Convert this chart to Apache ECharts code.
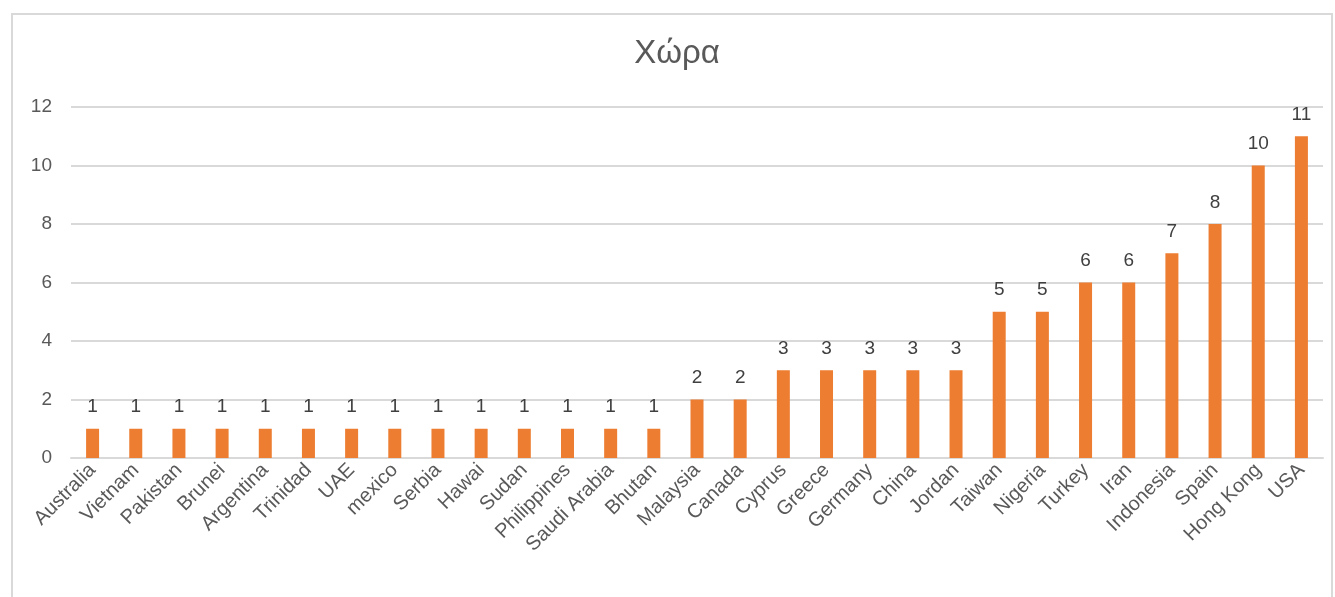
<!DOCTYPE html>
<html>
<head>
<meta charset="utf-8">
<style>
  html, body { margin: 0; padding: 0; background: #fff; }
  #frame { position: absolute; left: 11px; top: 13px; width: 1322px; height: 590px; border: 2px solid #d9d9d9; box-sizing: border-box; }
  #chart { position: absolute; left: 0; top: 0; width: 1335px; height: 597px; }
</style>
<script src="https://cdn.jsdelivr.net/npm/echarts@6/dist/echarts.min.js"></script>
</head>
<body>
<div id="frame"></div>
<div id="chart"></div>
<script>
// Countries and their counts
const countries = ['Australia', 'Vietnam', 'Pakistan', 'Brunei', 'Argentina', 'Trinidad', 'UAE', 'mexico', 'Serbia', 'Hawai', 'Sudan', 'Philippines', 'Saudi Arabia', 'Bhutan', 'Malaysia', 'Canada', 'Cyprus', 'Greece', 'Germany', 'China', 'Jordan', 'Taiwan', 'Nigeria', 'Turkey', 'Iran', 'Indonesia', 'Spain', 'Hong Kong', 'USA'];
const counts = [1, 1, 1, 1, 1, 1, 1, 1, 1, 1, 1, 1, 1, 1, 2, 2, 3, 3, 3, 3, 3, 5, 5, 6, 6, 7, 8, 10, 11];
const titleText = 'Χώρα';

const chart = echarts.init(document.getElementById('chart'));
const font = 'Liberation Sans, Arial, sans-serif';
chart.setOption({
  animation: false,
  title: {
    text: titleText,
    left: 672, top: 32, textAlign: 'center',
    textStyle: { fontFamily: font, fontSize: 33, fontWeight: 'normal', color: '#595959' }
  },
  grid: { left: 71, right: 12, top: 107, bottom: 139, containLabel: false },
  xAxis: {
    type: 'category',
    data: countries,
    axisLine: { lineStyle: { color: '#d9d9d9', width: 2 } },
    axisTick: { show: false },
    axisLabel: { rotate: 45, interval: 0, color: '#595959', fontFamily: font, fontSize: 20, margin: 9 }
  },
  yAxis: {
    type: 'value', min: 0, max: 12, interval: 2,
    axisLine: { show: false },
    axisTick: { show: false },
    splitLine: { lineStyle: { color: '#d9d9d9', width: 2 } },
    axisLabel: { color: '#595959', fontFamily: font, fontSize: 19, margin: 19 }
  },
  series: [{
    type: 'bar',
    data: counts,
    barWidth: 13,
    itemStyle: { color: '#ED7D31' },
    label: { show: true, position: 'top', distance: 12, color: '#404040', fontFamily: font, fontSize: 19 }
  }]
});
</script>
</body>
</html>
